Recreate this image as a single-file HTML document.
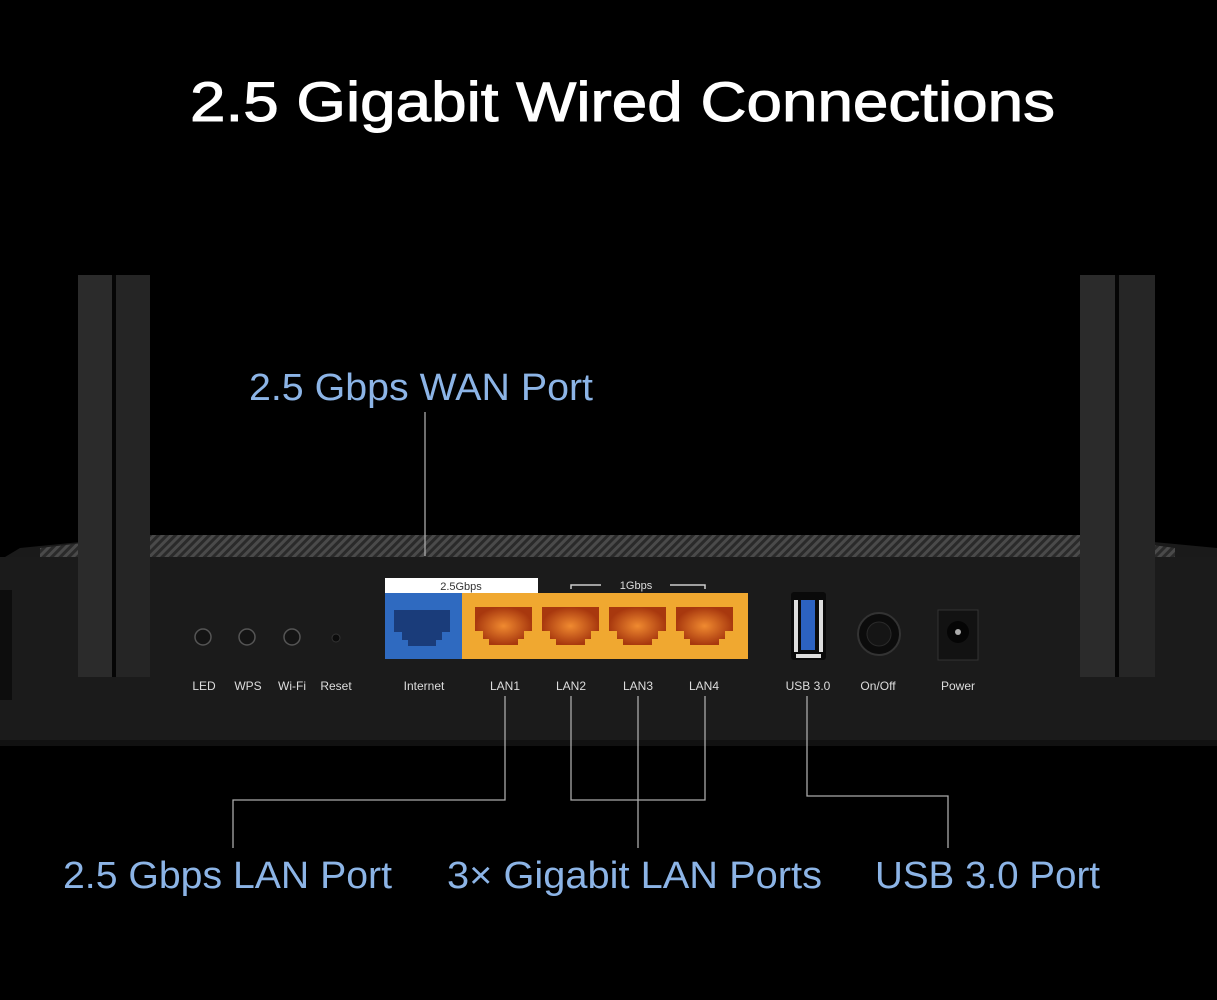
<!DOCTYPE html>
<html><head><meta charset="utf-8"><style>
html,body{margin:0;padding:0;background:#000;}
svg{display:block}
text{font-family:"Liberation Sans",sans-serif}
</style></head><body>
<svg width="1217" height="1000" viewBox="0 0 1217 1000" xmlns="http://www.w3.org/2000/svg">
<defs>
<pattern id="st" width="6" height="6" patternUnits="userSpaceOnUse" patternTransform="rotate(45)">
<rect width="6" height="6" fill="#2a2a2a"/><rect width="3" height="6" fill="#4a4a4a"/></pattern>
<radialGradient id="op"><stop offset="0" stop-color="#f08a30"/><stop offset="1" stop-color="#a8380e"/></radialGradient>
</defs>
<rect width="1217" height="1000" fill="#000"/>
<text x="190" y="121" fill="#fff" font-size="56" textLength="865" lengthAdjust="spacingAndGlyphs" stroke="#fff" stroke-width="1">2.5 Gigabit Wired Connections</text>
<!-- body -->
<path d="M20 548 L150 535 L1080 535 L1217 548 L1217 746 L0 746 L0 560 Z" fill="#1a1a1a"/>
<path d="M40 548 L150 535 L1080 535 L1175 548 L1175 557 L40 557Z" fill="url(#st)"/>
<rect x="0" y="557" width="1217" height="189" fill="#1b1b1b"/>
<rect x="0" y="740" width="1217" height="6" fill="#111"/>
<rect x="0" y="590" width="12" height="110" fill="#0d0d0d"/>
<!-- antennas -->
<rect x="78" y="275" width="34" height="402" fill="#2b2b2b"/>
<rect x="112" y="275" width="4" height="402" fill="#050505"/>
<rect x="116" y="275" width="34" height="402" fill="#252525"/>
<rect x="1080" y="275" width="35" height="402" fill="#2b2b2b"/>
<rect x="1115" y="275" width="4" height="402" fill="#050505"/>
<rect x="1119" y="275" width="36" height="402" fill="#262626"/>
<!-- buttons -->
<g fill="#141414" stroke="#555" stroke-width="1.5">
<circle cx="203" cy="637" r="8"/><circle cx="247" cy="637" r="8"/><circle cx="292" cy="637" r="8"/></g>
<circle cx="336" cy="638" r="4" fill="#0c0c0c" stroke="#333"/>
<g fill="#ddd" font-size="12" text-anchor="middle">
<text x="204" y="690">LED</text><text x="248" y="690">WPS</text><text x="292" y="690">Wi-Fi</text><text x="336" y="690">Reset</text>
<text x="424" y="690">Internet</text><text x="505" y="690">LAN1</text><text x="571" y="690">LAN2</text><text x="638" y="690">LAN3</text><text x="704" y="690">LAN4</text>
<text x="808" y="690">USB 3.0</text><text x="878" y="690">On/Off</text><text x="958" y="690">Power</text>
</g>
<!-- ports -->
<rect x="385" y="578" width="153" height="15" fill="#fff"/>
<text x="461" y="590" fill="#333" font-size="11" text-anchor="middle">2.5Gbps</text>
<rect x="385" y="593" width="77" height="66" fill="#2f6ac0"/>
<rect x="462" y="593" width="286" height="66" fill="#f0a830"/>
<path d="M394 610h56v22h-8v8h-6v6h-28v-6h-6v-8h-8z" fill="#1a3c7a"/>
<g fill="url(#op)">
<path d="M475 607h57v24h-8v8h-6v6h-29v-6h-6v-8h-8z"/>
<path d="M542 607h57v24h-8v8h-6v6h-29v-6h-6v-8h-8z"/>
<path d="M609 607h57v24h-8v8h-6v6h-29v-6h-6v-8h-8z"/>
<path d="M676 607h57v24h-8v8h-6v6h-29v-6h-6v-8h-8z"/>
</g>
<path d="M571 589v-4h30M670 585h35v4" stroke="#ccc" fill="none" stroke-width="1.5"/>
<text x="636" y="589" fill="#ddd" font-size="11" text-anchor="middle">1Gbps</text>
<!-- usb, switch, power -->
<rect x="791" y="592" width="35" height="68" rx="3" fill="#0a0a0a"/>
<rect x="794" y="600" width="4" height="52" fill="#ddd"/><rect x="819" y="600" width="4" height="52" fill="#ddd"/>
<rect x="801" y="600" width="14" height="50" fill="#2c62c0"/>
<rect x="796" y="654" width="25" height="4" fill="#ddd"/>
<circle cx="879" cy="634" r="21" fill="#0c0c0c" stroke="#333" stroke-width="2"/>
<circle cx="879" cy="634" r="12" fill="#151515" stroke="#2a2a2a"/>
<rect x="938" y="610" width="40" height="50" fill="#121212" stroke="#333"/>
<circle cx="958" cy="632" r="11" fill="#050505"/><circle cx="958" cy="632" r="3" fill="#aaa"/>
<!-- callouts -->
<g stroke="#aaa" stroke-width="1.3" fill="none">
<path d="M425 412V556"/>
<path d="M505 696V800H233V848"/>
<path d="M571 696V800H705V696M638 696V848"/>
<path d="M807 696V796H948V848"/>
</g>
<g fill="#8cb4e6" font-size="38">
<text x="249" y="400" textLength="344" lengthAdjust="spacingAndGlyphs">2.5 Gbps WAN Port</text>
<text x="63" y="888" textLength="329" lengthAdjust="spacingAndGlyphs">2.5 Gbps LAN Port</text>
<text x="447" y="888" textLength="375" lengthAdjust="spacingAndGlyphs">3× Gigabit LAN Ports</text>
<text x="875" y="888" textLength="225" lengthAdjust="spacingAndGlyphs">USB 3.0 Port</text>
</g>
</svg>
</body></html>
